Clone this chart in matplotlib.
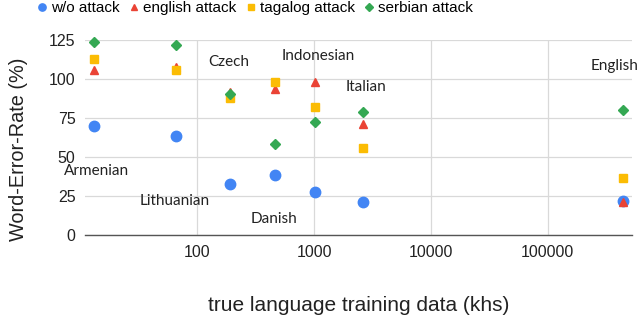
import matplotlib
matplotlib.use("Agg")
import matplotlib.pyplot as plt

# data (x in khs, log scale)
languages = ["Armenian", "Lithuanian", "Czech", "Danish", "Indonesian", "Italian", "English"]
train_khs = [13, 66, 191, 465, 1020, 2600, 437000]
wo_attack = [70, 63.7, 33, 38.6, 27.6, 21, 21.9]
english_attack = [105.5, 107.5, 92, 93.5, 98, 71, 21]
tagalog_attack = [113, 106, 88, 98.4, 82, 56, 36.7]
serbian_attack = [123.5, 122, 90.7, 58.5, 72.6, 79, 80.4]

# label positions (x, y) in data coords
label_x = [13.7, 64, 188, 455, 1080, 2760, 375000]
label_y = [41, 22, 111, 10, 115, 95, 108.5]

plt.rcParams['font.family'] = ['Liberation Sans', 'DejaVu Sans']

fig = plt.figure(figsize=(6.4, 3.18), dpi=100)
ax = fig.add_axes([0.133, 0.261, 0.8545, 0.613])

ax.plot(train_khs, wo_attack, 'o', color='#4285F4', ms=7.5, label='w/o attack', clip_on=False, zorder=3)
ax.plot(train_khs, english_attack, '^', color='#EA4335', ms=6, label='english attack', clip_on=False, zorder=3)
ax.plot(train_khs, tagalog_attack, 's', color='#FBBC04', ms=5.2, label='tagalog attack', clip_on=False, zorder=3)
ax.plot(train_khs, serbian_attack, 'D', color='#34A853', ms=5.5, label='serbian attack', clip_on=False, zorder=3)

for name, lx, ly in zip(languages, label_x, label_y):
    ax.text(lx, ly, name, ha='center', va='center', fontsize=11,
            family=['Lato', 'DejaVu Sans'], color='#222222', clip_on=False)

ax.set_xscale('log')
ax.set_xlim(11, 525000)
ax.set_ylim(0, 125)
ax.set_xticks([100, 1000, 10000, 100000])
ax.set_xticklabels(['100', '1000', '10000', '100000'])
ax.minorticks_off()
ax.set_yticks([0, 25, 50, 75, 100, 125])
ax.tick_params(length=0, labelsize=11.5, colors='#222222', pad=7)

ax.grid(True, color='#d9d9d9', linewidth=0.9)
ax.set_axisbelow(True)
for s in ['top', 'right', 'left']:
    ax.spines[s].set_visible(False)
ax.spines['bottom'].set_color('#555555')
ax.spines['bottom'].set_linewidth(1)

ax.set_ylabel('Word-Error-Rate (%)', fontsize=14.3, color='#222222')
ax.yaxis.set_label_coords(-0.104, 0.44)
ax.set_xlabel('true language training data (khs)', fontsize=15, color='#222222', labelpad=26)

fig.legend(loc='upper left', bbox_to_anchor=(0.035, 1.04), ncol=4, frameon=False,
           fontsize=11, handletextpad=0.2, columnspacing=0.52, markerscale=0.7,
           handlelength=0.8)

fig.savefig('out.png', dpi=100)
